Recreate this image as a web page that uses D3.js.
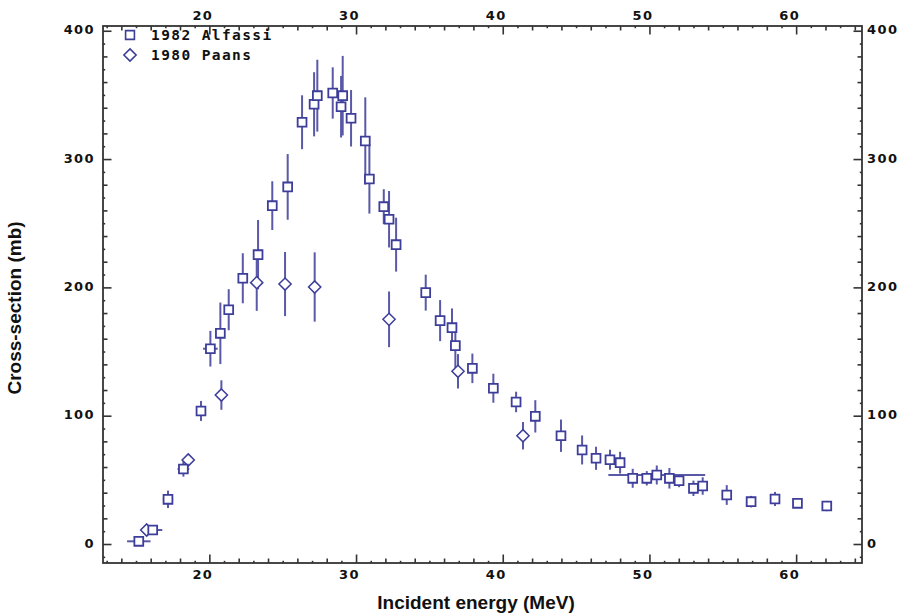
<!DOCTYPE html>
<html>
<head>
<meta charset="utf-8">
<script src="https://cdn.jsdelivr.net/npm/d3@7"></script>
<style>
  body { margin: 0; background: #fff; }
  svg { display: block; }
  .tick text { font-family: "DejaVu Sans", sans-serif; font-weight: bold; font-size: 13px; letter-spacing: 1.4px; fill: #111; }
  .tick line { stroke: #333; stroke-width: 1.6; }
</style>
</head>
<body>
<div id="chart"></div>
<script>
// 1982 Alfassi: energy (MeV), cross-section (mb), error (mb), energy spread (MeV)
const alfassiE = [15.19, 16.14, 17.18, 18.23, 19.43, 20.07, 20.75, 21.32, 22.28, 23.32,
  24.29, 25.34, 26.32, 27.14, 27.36, 28.41, 28.98, 29.09, 29.66, 30.63,
  30.91, 31.89, 32.25, 32.73, 34.75, 35.73, 36.54, 36.77, 37.93, 39.36,
  40.91, 42.22, 43.97, 45.41, 46.36, 47.31, 48.0, 48.86, 49.82, 50.5,
  51.36, 52.02, 53.0, 53.63, 55.27, 56.93, 58.56, 60.09, 62.09];
const alfassiXS = [2.1, 10.9, 34.8, 58.5, 103.7, 152.2, 164.2, 182.6, 207.1, 225.5,
  263.7, 278.3, 328.7, 342.7, 349.4, 351.5, 340.8, 349.4, 331.8, 314.1,
  284.5, 262.9, 253.1, 233.3, 195.9, 174.1, 168.6, 154.6, 136.9, 121.4,
  110.7, 99.5, 84.4, 73.3, 66.8, 65.7, 63.4, 51.2, 51.2, 53.8,
  51.2, 49.3, 43.4, 45.2, 38.2, 33.0, 35.1, 31.7, 29.6];
const alfassiErr = [0, 0, 6.8, 6, 7.8, 13.9, 24, 16, 19.5, 27,
  19, 25.6, 21, 25, 28, 20, 24, 31, 22, 34,
  27, 13.6, 22, 21, 14, 16, 15, 17.5, 11.5, 11.3,
  8, 12.6, 12.6, 11.3, 9, 7.8, 8.5, 7.4, 5.6, 7.4,
  8, 5, 6, 6.8, 7.7, 4.5, 5.5, 2, 4];
const alfassiEErr = [0.8, 0.65, 0.35, 0.4, 0, 0.5, 0, 0, 0, 0,
  0, 0, 0, 0, 0, 0, 0, 0, 0, 0,
  0, 0, 0, 0, 0, 0, 0, 0, 0, 0,
  0, 0, 0, 0, 0, 0, 0, 0, 0, 3.3,
  0, 0, 0, 0, 0, 0, 0, 0, 0];

// 1980 Paans
const paansE = [15.73, 18.56, 20.82, 23.23, 25.16, 27.18, 32.25, 36.95, 41.38];
const paansXS = [10.9, 65.5, 116.1, 203.7, 202.6, 200.3, 175.1, 134.6, 84.4];
const paansErr = [0, 3, 11.5, 22, 25, 27, 21.7, 13.4, 10.7];

const xMajor = [20, 30, 40, 50, 60];
const yMajor = [0, 100, 200, 300, 400];

const width = 907, height = 614;
const margin = { top: 26, right: 45, bottom: 51, left: 103 };
const w = width - margin.left - margin.right;
const h = height - margin.top - margin.bottom;
const color = "#3d3d9a";

const svg = d3.select("#chart").append("svg")
  .attr("width", width).attr("height", height);

const g = svg.append("g").attr("transform", `translate(${margin.left},${margin.top})`);

const x = d3.scaleLinear().domain([12.75, 64.49]).range([0, w]);
const y = d3.scaleLinear().domain([-14.8, 403.7]).range([h, 0]);

const xSmall = d3.range(13, 65, 2);          // odd MeV
const xMid = d3.range(14, 65, 2).filter(v => v % 10 !== 0);
const ySmall = d3.range(-10, 401, 20);
const yMid = d3.range(20, 401, 20).filter(v => v % 100 !== 0);

function minor(axisFn, scale, vals, len) {
  return axisFn(scale).tickValues(vals).tickSize(-len).tickFormat("");
}

function addAxis(axisFn, scale, transform, major, small, mid) {
  const sel = g.append("g").attr("transform", transform);
  sel.append("g").call(minor(axisFn, scale, small, 2.2));
  sel.append("g").call(minor(axisFn, scale, mid, 4.5));
  const ax = axisFn(scale).tickValues(major).tickSize(-8.5).tickPadding(9);
  sel.append("g").attr("class", "major").call(ax);
  sel.selectAll(".domain").remove();
  return sel;
}

const axBottom = addAxis(d3.axisBottom, x, `translate(0,${h})`, xMajor, xSmall, xMid);
axBottom.selectAll(".major text").attr("dx", -7).attr("y", 7);
const axTop = addAxis(d3.axisTop, x, "translate(0,0)", xMajor, xSmall, xMid);
axTop.selectAll(".major text").attr("dx", -7).attr("y", -6);
const axLeft = addAxis(d3.axisLeft, y, "translate(0,0)", yMajor, ySmall, yMid);
axLeft.selectAll(".major text").attr("x", -8).attr("dy", "0.25em");
const axRight = addAxis(d3.axisRight, y, `translate(${w},0)`, yMajor, ySmall, yMid);
axRight.selectAll(".major text").attr("x", 5).attr("dy", "0.25em").attr("text-anchor", "start");

// frame
g.append("rect").attr("width", w).attr("height", h)
  .attr("fill", "none").attr("stroke", "#333").attr("stroke-width", 1.8);

// data tables
const alfassi = alfassiE.map((e, i) => ({ e, v: alfassiXS[i], err: alfassiErr[i], eErr: alfassiEErr[i] }));
const paans = paansE.map((e, i) => ({ e, v: paansXS[i], err: paansErr[i], eErr: 0 }));
const all = alfassi.concat(paans);

// error bars
const bars = g.append("g").attr("stroke", color).attr("stroke-width", 2).attr("opacity", 0.85);
bars.selectAll("line.v").data(all.filter(d => d.err > 0)).join("line")
  .attr("class", "v")
  .attr("x1", d => x(d.e)).attr("x2", d => x(d.e))
  .attr("y1", d => y(d.v - d.err)).attr("y2", d => y(d.v + d.err));
bars.selectAll("line.h").data(all.filter(d => d.eErr > 0)).join("line")
  .attr("class", "h")
  .attr("x1", d => x(d.e - d.eErr)).attr("x2", d => x(d.e + d.eErr))
  .attr("y1", d => y(d.v)).attr("y2", d => y(d.v));

// markers
const sq = d3.symbol().type(d3.symbolSquare).size(78);
const dm = d3.symbol().type(d3.symbolDiamond2).size(95);

g.append("g").selectAll("path").data(paans).join("path")
  .attr("d", dm)
  .attr("transform", d => `translate(${x(d.e)},${y(d.v)})`)
  .attr("fill", "#fff").attr("stroke", color).attr("stroke-width", 1.5);

g.append("g").selectAll("path").data(alfassi).join("path")
  .attr("d", sq)
  .attr("transform", d => `translate(${x(d.e)},${y(d.v)})`)
  .attr("fill", "#fff").attr("stroke", color).attr("stroke-width", 1.8);

// legend
const legend = svg.append("g");
const legendItems = [
  { label: "1982 Alfassi", sym: sq },
  { label: "1980 Paans", sym: dm }
];
legendItems.forEach((it, i) => {
  const yy = 35 + i * 20;
  legend.append("path").attr("d", it.sym)
    .attr("transform", `translate(130,${yy})`)
    .attr("fill", "#fff").attr("stroke", color).attr("stroke-width", 1.6);
  legend.append("text").attr("x", 151).attr("y", yy + 5)
    .attr("font-family", "DejaVu Sans Mono, monospace").attr("font-weight", "bold")
    .attr("font-size", 14.5).attr("letter-spacing", 1.4).attr("fill", "#111")
    .text(it.label);
});

// axis titles
svg.append("text")
  .attr("x", 476).attr("y", 609)
  .attr("text-anchor", "middle")
  .attr("font-family", "Liberation Sans, Arial, sans-serif").attr("font-weight", "bold")
  .attr("font-size", 19).attr("fill", "#111")
  .text("Incident energy (MeV)");

svg.append("text")
  .attr("transform", `translate(21,308) rotate(-90)`)
  .attr("text-anchor", "middle")
  .attr("font-family", "Liberation Sans, Arial, sans-serif").attr("font-weight", "bold")
  .attr("font-size", 19).attr("fill", "#111")
  .text("Cross-section (mb)");
</script>
</body>
</html>
